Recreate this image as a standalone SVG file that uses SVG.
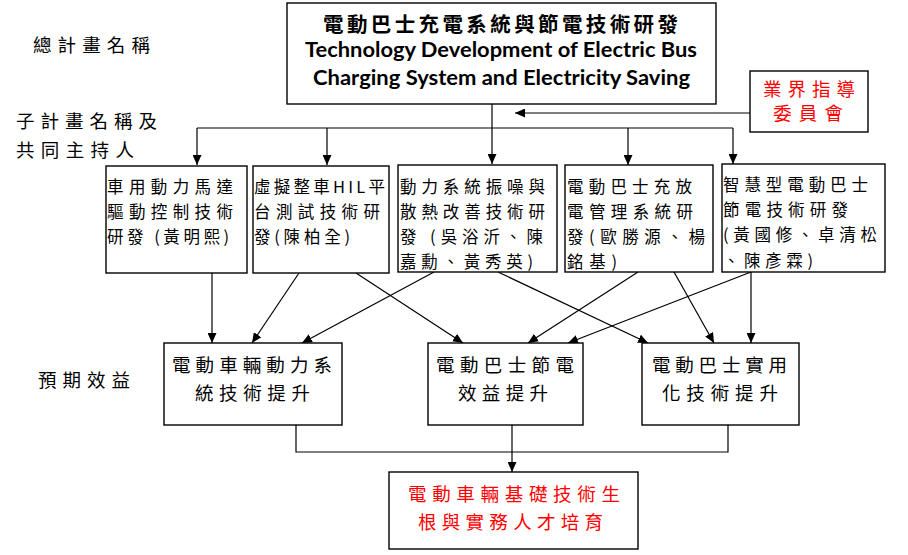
<svg xmlns="http://www.w3.org/2000/svg" width="908" height="555" viewBox="0 0 908 555">
<style>
.box{fill:#fff;stroke:#000;stroke-width:1.4}
.ln{fill:none;stroke:#000;stroke-width:1.2}
.cj{font-family:"Noto Sans CJK TC","Noto Sans CJK SC",sans-serif;fill:#000}
.s17{font-size:16.5px}
.s19{font-size:18.5px}
.red{fill:#ff0000}
.en{font-family:Lato,"Liberation Sans",sans-serif;font-weight:700;font-size:20px;fill:#000}
</style>
<defs>
<marker id="ah" markerWidth="10" markerHeight="9" refX="10" refY="4.5" orient="auto" markerUnits="userSpaceOnUse">
<path d="M0,0 L10,4.5 L0,9 Z" fill="#000"/>
</marker>
</defs>
<rect width="908" height="555" fill="#fff"/>

<g id="labels">
<text class="cj s19" x="33" y="52" textLength="117" lengthAdjust="spacing">總計畫名稱</text>
<text class="cj s19" x="16" y="128" textLength="141" lengthAdjust="spacing">子計畫名稱及</text>
<text class="cj s19" x="16" y="157" textLength="118" lengthAdjust="spacing">共同主持人</text>
<text class="cj s19" x="38" y="387" textLength="92" lengthAdjust="spacing">預期效益</text>
</g>

<g id="connectors">
<path class="ln" d="M492,104 V164" marker-end="url(#ah)"/>
<path class="ln" d="M197,128 H733"/>
<path class="ln" d="M197,128 V165" marker-end="url(#ah)"/>
<path class="ln" d="M327,128 V165" marker-end="url(#ah)"/>
<path class="ln" d="M628,128 V165" marker-end="url(#ah)"/>
<path class="ln" d="M733,128 V164" marker-end="url(#ah)"/>
<path class="ln" d="M750,113 H515" marker-end="url(#ah)"/>

<path class="ln" d="M212,273 V343" marker-end="url(#ah)"/>
<path class="ln" d="M299,273 L252,343" marker-end="url(#ah)"/>
<path class="ln" d="M356,273 L463,343" marker-end="url(#ah)"/>
<path class="ln" d="M434,272 L302,343" marker-end="url(#ah)"/>
<path class="ln" d="M498,272 L648,343" marker-end="url(#ah)"/>
<path class="ln" d="M638,272 L528,343" marker-end="url(#ah)"/>
<path class="ln" d="M674,272 L714,343" marker-end="url(#ah)"/>
<path class="ln" d="M751,272 L568,343" marker-end="url(#ah)"/>
<path class="ln" d="M751,272 V343" marker-end="url(#ah)"/>

<path class="ln" d="M296,425 V452 H728 V425"/>
<path class="ln" d="M512,425 V472" marker-end="url(#ah)"/>
</g>

<g id="main">
<rect class="box" x="287" y="3" width="429" height="101"/>
<text class="cj" x="323" y="32" font-size="20.5" font-weight="700" textLength="355" lengthAdjust="spacing">電動巴士充電系統與節電技術研發</text>
<text class="en" x="305" y="57" textLength="392" lengthAdjust="spacingAndGlyphs">Technology Development of Electric Bus</text>
<text class="en" x="313" y="85" textLength="377" lengthAdjust="spacingAndGlyphs">Charging System and Electricity Saving</text>
</g>

<g id="industry">
<rect class="box" x="750" y="71" width="118" height="61"/>
<text class="cj s19 red" x="763" y="96" textLength="92" lengthAdjust="spacing">業界指導</text>
<text class="cj s19 red" x="773" y="120" textLength="70" lengthAdjust="spacing">委員會</text>
</g>

<g id="sub1">
<rect class="box" x="106" y="166" width="141" height="107"/>
<text class="cj s17" x="107" y="193" textLength="126" lengthAdjust="spacing">車用動力馬達</text>
<text class="cj s17" x="107" y="218" textLength="126" lengthAdjust="spacing">驅動控制技術</text>
<text class="cj s17" x="107" y="243" textLength="122" lengthAdjust="spacing">研發 (黃明熙)</text>
</g>

<g id="sub2">
<rect class="box" x="253" y="166" width="136" height="107"/>
<text class="cj s17" x="254" y="193" textLength="131" lengthAdjust="spacing">虛擬整車HIL平</text>
<text class="cj s17" x="254" y="218" textLength="126" lengthAdjust="spacing">台測試技術研</text>
<text class="cj s17" x="254" y="243" textLength="96" lengthAdjust="spacing">發(陳柏全)</text>
</g>

<g id="sub3">
<rect class="box" x="398" y="165" width="159" height="107"/>
<text class="cj s17" x="400" y="193" textLength="145" lengthAdjust="spacing">動力系統振噪與</text>
<text class="cj s17" x="400" y="218" textLength="145" lengthAdjust="spacing">散熱改善技術研</text>
<text class="cj s17" x="400" y="243" textLength="143" lengthAdjust="spacing">發 (吳浴沂、陳</text>
<text class="cj s17" x="400" y="268" textLength="133" lengthAdjust="spacing">嘉勳、黃秀英)</text>
</g>

<g id="sub4">
<rect class="box" x="565" y="165" width="148" height="107"/>
<text class="cj s17" x="567" y="193" textLength="125" lengthAdjust="spacing">電動巴士充放</text>
<text class="cj s17" x="567" y="218" textLength="126" lengthAdjust="spacing">電管理系統研</text>
<text class="cj s17" x="567" y="243" textLength="138" lengthAdjust="spacing">發(歐勝源、楊</text>
<text class="cj s17" x="567" y="268" textLength="50" lengthAdjust="spacing">銘基)</text>
</g>

<g id="sub5">
<rect class="box" x="722" y="164" width="163" height="108"/>
<text class="cj s17" x="723" y="191" textLength="145" lengthAdjust="spacing">智慧型電動巴士</text>
<text class="cj s17" x="723" y="216" textLength="125" lengthAdjust="spacing">節電技術研發</text>
<text class="cj s17" x="723" y="241" textLength="154" lengthAdjust="spacing">(黃國修、卓清松</text>
<text class="cj s17" x="723" y="267" textLength="90" lengthAdjust="spacing">、陳彥霖)</text>
</g>

<g id="benefitA">
<rect class="box" x="164" y="343" width="178" height="82"/>
<text class="cj s19" x="172" y="372" textLength="160" lengthAdjust="spacing">電動車輛動力系</text>
<text class="cj s19" x="195" y="400" textLength="115" lengthAdjust="spacing">統技術提升</text>
</g>

<g id="benefitB">
<rect class="box" x="428" y="343" width="155" height="82"/>
<text class="cj s19" x="436" y="372" textLength="138" lengthAdjust="spacing">電動巴士節電</text>
<text class="cj s19" x="458" y="400" textLength="90" lengthAdjust="spacing">效益提升</text>
</g>

<g id="benefitC">
<rect class="box" x="642" y="343" width="157" height="82"/>
<text class="cj s19" x="652" y="372" textLength="135" lengthAdjust="spacing">電動巴士實用</text>
<text class="cj s19" x="662" y="400" textLength="116" lengthAdjust="spacing">化技術提升</text>
</g>

<g id="result">
<rect class="box" x="389" y="472" width="249" height="77"/>
<text class="cj s19 red" x="408" y="501" textLength="212" lengthAdjust="spacing">電動車輛基礎技術生</text>
<text class="cj s19 red" x="418" y="529" textLength="185" lengthAdjust="spacing">根與實務人才培育</text>
</g>
</svg>
